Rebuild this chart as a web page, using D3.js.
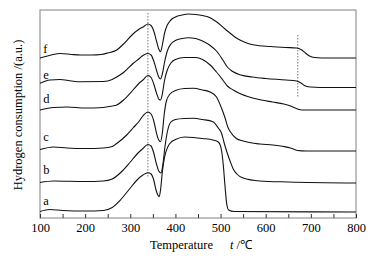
<!DOCTYPE html>
<html>
<head>
<meta charset="utf-8">
<script src="https://cdn.jsdelivr.net/npm/d3@7"></script>
<style>
  body { margin: 0; background: #fff; }
  text { font-family: "Liberation Serif", "Times New Roman", serif; fill: #000; }
</style>
</head>
<body>
<svg id="chart" width="380" height="260"></svg>
<script>
// temperatures (°C) and hydrogen consumption (a.u.)
let fT = [100,125,145,170,190,215,235,250,270,285,306,320,330,339,346,352,358,363,367,371,376,382,390,400,415,428,445,460,470,490,510,535,555,575,610,645,668,678,688,697,708,740,800];
let fV = [160,163,164.5,163.5,163,163,163.5,165,168,174,184,189,191.5,194,192.5,187,177,169,166.3,173,185,193,198,201,203,204,203.5,202.5,201.5,196.5,189,180,175.5,173,171.5,170.5,170,168.5,165,162,160.5,160,160];

let eT = [100,122,144,170,190,240,260,270,285,306,320,328,339,346,352,358,363,367,371,376,382,390,400,415,428,445,460,477,491,505,515,525,545,570,600,645,668,678,688,700,740,800];
let eV = [134.7,138,138.5,137,136.3,136.5,138.5,141,145.5,154.5,159.5,162.5,164.5,163,157,148,141,139,144,156,167,174,177.5,179.5,180.3,179.5,177,172.5,167,158,151,147,143,141,139.5,138,137,135,132,131,130.5,130.5];

let dT = [100,130,160,200,240,260,270,285,306,320,328,339,346,352,358,364,367,371,376,382,390,400,420,445,460,477,491,505,515,528,545,560,590,615,640,655,668,680,800];
let dV = [108,110.5,111,110,110.5,112,113,118,128,135,138,142.5,140.5,134,125,118.5,118,124,138,148,155,158.5,160.5,160.5,158.5,153,146,138,132,128,124,121.5,118,116,114,112,109.5,108,108];

let cT = [100,130,160,200,240,260,270,292,306,320,328,339,346,352,358,363,367,371,375,380,388,400,420,440,460,477,491,502,510,516,522,535,550,587,616,640,655,670,690,800];
let cV = [68.5,71,70,69.5,70,71.5,74.5,83,90,97,102,106,104,97,85,78,76.3,85,103,117,124,127.5,129.5,129.7,128,126,121,110,100,91,86,79.5,77,74,73,71.5,70,67.5,67,67];

let bT = [100,130,200,240,260,280,300,315,328,339,346,352,358,363,368,372,377,383,390,400,420,440,460,483,495,502,508,514,521,528,536,550,587,650,800];
let bV = [35.5,37,36.5,37,39,46,56,64,69.5,73.5,72,65,54,47,45,53,72,88,96,98.5,99.5,99.7,98.5,96.3,90,85,75,66,57,49,44,40,37,36,35];

let aT = [100,122,150,200,240,260,280,300,315,328,339,346,352,357,361,364,367,371,376,383,392,400,420,440,460,483,495,502,506,510,514,518,530,800];
let aV = [6.5,8.5,7.5,7,7.5,10.5,19,30,38,43,45.3,44,38,28,23,21.3,28,46,61,71,76.5,78.5,81,80.5,79.5,78,76,68,53,31,13,8,6.5,6];

let seriesNames = ["a","b","c","d","e","f"];
let labelV = [13,44,77,115,139,165];   // where the letters sit
let xTicks = [100,200,300,400,500,600,700,800];
let markT = [339,671];                 // dotted guide lines
let markV = [[40,205],[121,183]];

let series = [
  {name:"a", t:aT, v:aV}, {name:"b", t:bT, v:bV}, {name:"c", t:cT, v:cV},
  {name:"d", t:dT, v:dV}, {name:"e", t:eT, v:eV}, {name:"f", t:fT, v:fV}
];

let mLeft = 40, mRight = 356, mTop = 10, mBottom = 218;
let svg = d3.select("#chart");

let x = d3.scaleLinear().domain([100,800]).range([mLeft,mRight]);
let y = d3.scaleLinear().domain([0,208]).range([mBottom,mTop]);

// frame
svg.append("rect")
  .attr("x", mLeft).attr("y", mTop)
  .attr("width", mRight-mLeft).attr("height", mBottom-mTop)
  .attr("fill","none").attr("stroke","#808080").attr("stroke-width",1);

// bottom axis, ticks pointing inward
let xAxis = d3.axisBottom(x).tickValues(d3.range(100,801,50))
  .tickSize(-4).tickPadding(5)
  .tickFormat(d => xTicks.includes(d) ? d : "");
let gx = svg.append("g").attr("transform",`translate(0,${mBottom})`).call(xAxis);
gx.select(".domain").remove();
gx.selectAll("line").attr("stroke","#333");
gx.selectAll("text").attr("font-size","12.5px").attr("font-family","Liberation Serif");

// dotted guides
markT.forEach((t,i) => {
  svg.append("line")
    .attr("x1",x(t)).attr("x2",x(t))
    .attr("y1",y(markV[i][1])).attr("y2",y(markV[i][0]))
    .attr("stroke","#777").attr("stroke-width",1)
    .attr("stroke-dasharray","1.5,1.5");
});

let line = d3.line()
  .x(d => x(d[0]))
  .y(d => y(d[1]))
  .curve(d3.curveMonotoneX);

svg.append("g").selectAll("path")
  .data(series)
  .join("path")
  .attr("d", s => line(s.t.map((t,i) => [t, s.v[i]])))
  .attr("fill","none")
  .attr("stroke","#111")
  .attr("stroke-width",1.1);

svg.append("g").selectAll("text")
  .data(seriesNames)
  .join("text")
  .attr("x", x(107))
  .attr("y", (d,i) => y(labelV[i]))
  .attr("font-size","12.5px")
  .text(d => d);

// axis titles
svg.append("text")
  .attr("transform","translate(22,115) rotate(-90)")
  .attr("text-anchor","middle")
  .attr("font-size","12.5px")
  .text("Hydrogen consumption /(a.u.)");

let xl = svg.append("text").attr("x",150).attr("y",249).attr("font-size","12.5px");
xl.append("tspan").text("Temperature");
xl.append("tspan").attr("x",230).attr("font-style","italic").text("t");
xl.append("tspan").text(" /℃");
</script>
</body>
</html>
